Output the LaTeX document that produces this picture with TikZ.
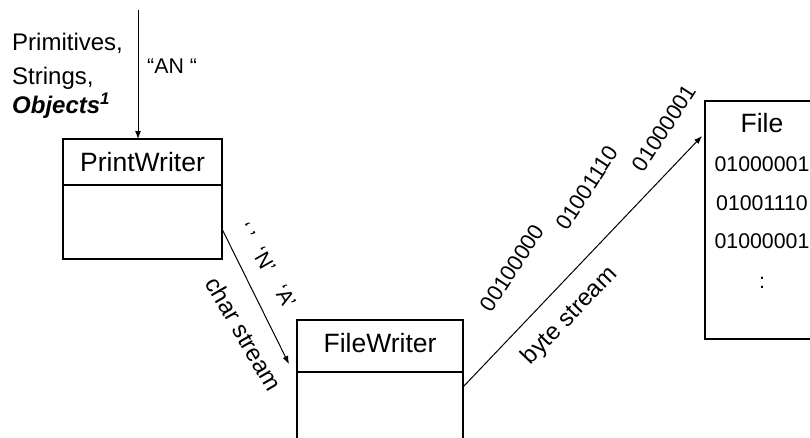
\documentclass[tikz,border=0pt]{standalone}
\usepackage{fontspec}
\setmainfont{Liberation Sans}
\usetikzlibrary{arrows.meta,calc}
\begin{document}
\begin{tikzpicture}[x=1pt,y=-1pt,
  lw/.style={line width=1.1pt},
  box/.style={draw,lw,rectangle,inner sep=0pt,outer sep=0pt},
  ttl/.style={font=\fontsize{26.5}{30}\selectfont,inner sep=0pt,anchor=base},
  lbl/.style={font=\fontsize{21.3}{25}\selectfont,inner sep=0pt},
  biglbl/.style={font=\fontsize{24}{28}\selectfont,inner sep=0pt},
  bits/.style={font=\fontsize{22}{26}\selectfont,inner sep=0pt},
  arr/.style={line width=1pt,-{Latex[length=8pt,width=6pt]}}]
\useasboundingbox (0,0) rectangle (810,437);
\clip (0,0) rectangle (810,437);
% boxes
\node[box,minimum width=159pt,minimum height=120pt] (pw) at (142.5,199) {};
\node[box,minimum width=166pt,minimum height=150pt] (fw) at (380,395) {};
\node[box,minimum width=114pt,minimum height=238pt] (file) at (762,220) {};
\draw[lw] (pw.west |- 0,185) -- (pw.east |- 0,185);
\draw[lw] (fw.west |- 0,372) -- (fw.east |- 0,372);
% titles
\node[ttl] (pwt) at (142.5,171.7) {PrintWriter};
\node[ttl] (fwt) at (380,352.7) {FileWriter};
\node[ttl] (filet) at (762,132.7) {File};
\node[lbl,anchor=base] (b1) at (762,171.7) {01000001};
\node[lbl,anchor=base] (b2) at (762,210) {01001110};
\node[lbl,anchor=base] (b3) at (762,248.5) {01000001};
\node[lbl,anchor=base] (b4) at (762,288) {:};
% input
\coordinate (in) at (138,10);
\draw[arr] (in) -- (in |- pw.north);
\node[biglbl,anchor=base west] (t1) at (12,50) {Primitives,};
\node[biglbl,anchor=base west] (t2) at (12,84) {Strings,};
\node[biglbl,anchor=base west] (t3) at (12,113.5) {\bfseries\itshape Objects\textsuperscript{1}};
\node[lbl,anchor=base west] (an) at (147,73) {“AN “};
% char stream
\coordinate (c1) at (pw.east |- 0,229);
\coordinate (c2) at ($(fw.west |- 0,364)+(-8,0)$);
\draw[arr] (c1) -- (c2);
\node[lbl,rotate=-60] (q0) at (246,231) {‘ ’};
\node[lbl,rotate=-60] (qn) at (264,260) {‘N’};
\node[lbl,rotate=-60] (qa) at (285,296) {‘A’};
\node[biglbl,rotate=-60] (cs) at (244,334) {char stream};
% byte stream
\coordinate (d1) at (fw.east |- 0,387);
\coordinate (d2) at ($(file.west |- 0,136)+(-3,0)$);
\draw[arr] (d1) -- (d2);
\node[biglbl,rotate=46] (bs) at (570,316) {byte stream};
\node[bits,rotate=57] (y1) at (512,268) {00100000};
\node[bits,rotate=57] (y2) at (587,188) {01001110};
\node[bits,rotate=57] (y3) at (664,128) {01000001};
\end{tikzpicture}
\end{document}
